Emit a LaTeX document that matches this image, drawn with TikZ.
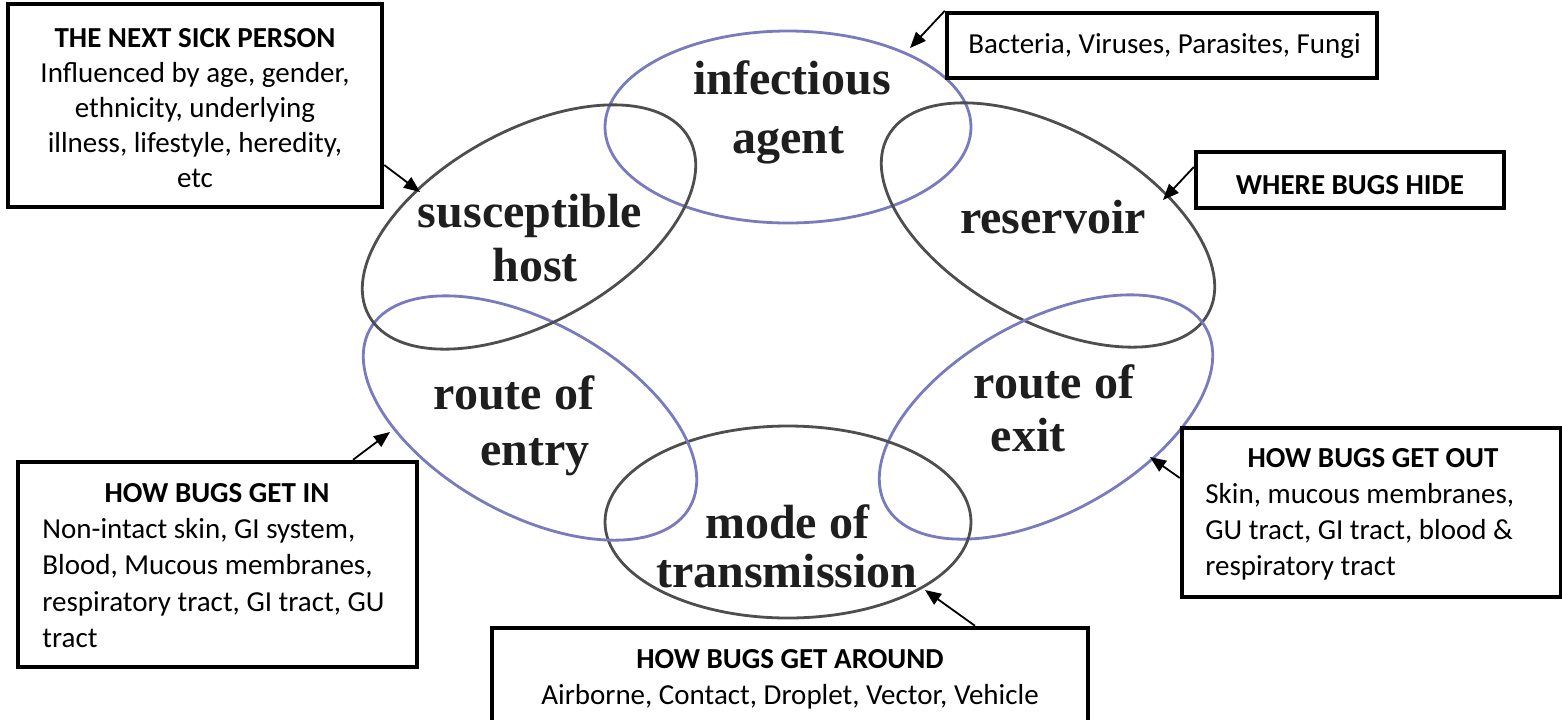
\documentclass[tikz,border=0pt]{standalone}
\usepackage{fontspec}
\setmainfont{Carlito}
\newfontfamily\ringfont{Liberation Serif}
\usetikzlibrary{arrows.meta,shapes.geometric}
\definecolor{ringblue}{RGB}{122,122,190}
\definecolor{ringgray}{RGB}{78,78,78}
\definecolor{ringtext}{RGB}{30,30,30}
\tikzset{
  card/.style={rectangle, draw=black, line width=2.2pt, inner sep=0pt},
  ring/.style={ellipse, line width=1.4pt, inner sep=0pt, minimum width=183pt, minimum height=96pt},
  ringB/.style={ring, draw=ringblue},
  ringG/.style={ring, draw=ringgray},
  word/.style={font=\ringfont\bfseries\fontsize{24}{28}\selectfont, text=ringtext, inner sep=0pt, anchor=base},
  head/.style={font=\bfseries\fontsize{14.5}{18}\selectfont, inner sep=0pt, anchor=base},
  body/.style={font=\fontsize{14.5}{18}\selectfont, inner sep=0pt},
  arr/.style={-{Triangle[length=8pt,width=6.5pt]}, line width=0.9pt},
}
\begin{document}
\begin{tikzpicture}[x=0.5pt,y=-0.5pt]
\fill[white] (0,0) rectangle (1562,719);
\useasboundingbox (0,0) rectangle (1562,719);
\begin{scope}
\clip (0,0) rectangle (1562,719);
% rings
\node[ringB] (agent) at (788,127) {};
\node[ringG, rotate=-29] (reservoir) at (1048,225) {};
\node[ringB, rotate=29] (exit) at (1046,417) {};
\node[ringG] (mode) at (788,522) {};
\node[ringB, rotate=-29] (entry) at (530,418) {};
\node[ringG, rotate=29] (host) at (529,227) {};
% ring labels
\node[word] (agent1) at (792,94) {infectious};
\node[word] (agent2) at (788,153) {agent};
\node[word] (host1) at (530,227) {susceptible};
\node[word] (host2) at (535,281) {host};
\node[word] (res1) at (1053,233) {reservoir};
\node[word] (exit1) at (1054,398) {route of};
\node[word] (exit2) at (1028,451) {exit};
\node[word] (entry1) at (514,409) {route of};
\node[word] (entry2) at (535,465) {entry};
\node[word] (mode1) at (787,538) {mode of};
\node[word] (mode2) at (787,587) {transmission};
% boxes
\node[card, minimum width=187pt, minimum height=101.5pt] (b1) at (195,105.5) {};
\node[card, minimum width=215pt, minimum height=32.5pt] (b2) at (1162,45.5) {};
\node[card, minimum width=154pt, minimum height=28pt] (b3) at (1350,180) {};
\node[card, minimum width=199.5pt, minimum height=102.5pt] (b4) at (217.5,564.5) {};
\node[card, minimum width=189.5pt, minimum height=84.5pt] (b5) at (1371.5,512.5) {};
\node[card, minimum width=298pt, minimum height=66pt] (b6) at (790,694) {};
% box texts
\node[body, anchor=north, align=center, font=\fontsize{14.5}{17.5}\selectfont] (b1t) at (195,22.5)
  {\strut\textbf{THE NEXT SICK PERSON}\\Influenced by age, gender,\\ethnicity, underlying\\illness, lifestyle, heredity,\\etc};
\node[body, anchor=base west] (b2t) at (968,53) {Bacteria, Viruses, Parasites, Fungi};
\node[head] (b3t) at (1350,194) {WHERE BUGS HIDE};
\node[head] (b4h) at (217,502) {HOW BUGS GET IN};
\node[body, anchor=north west, align=left, font=\fontsize{14.5}{18.2}\selectfont] (b4t) at (42,512.5)
  {\strut Non-intact skin, GI system,\\Blood, Mucous membranes,\\respiratory tract, GI tract, GU\\tract};
\node[head] (b5h) at (1373,467) {HOW BUGS GET OUT};
\node[body, anchor=north west, align=left] (b5t) at (1205,477.8)
  {\strut Skin, mucous membranes,\\GU tract, GI tract, blood \&\\respiratory tract};
\node[head] (b6h) at (790,668) {HOW BUGS GET AROUND};
\node[body, anchor=base] (b6t) at (790,704) {Airborne, Contact, Droplet, Vector, Vehicle};
% arrows
\coordinate (s1) at (0,165);   \coordinate (t1) at (420,192);
\coordinate (t2) at (910,48);
\coordinate (s3) at (0,167);   \coordinate (t3) at (1163,200);
\coordinate (s4) at (353,0);   \coordinate (t4) at (390,432);
\coordinate (s5) at (0,478);   \coordinate (t5) at (1150,457);
\coordinate (s6) at (975,0);   \coordinate (t6) at (925,590);
\draw[arr] (b1.east |- s1) -- (t1);
\draw[arr] (b2.north west) -- (t2);
\draw[arr] (b3.west |- s3) -- (t3);
\draw[arr] (b4.north -| s4) -- (t4);
\draw[arr] (b5.west |- s5) -- (t5);
\draw[arr] (b6.north -| s6) -- (t6);
\end{scope}
\end{tikzpicture}
\end{document}
